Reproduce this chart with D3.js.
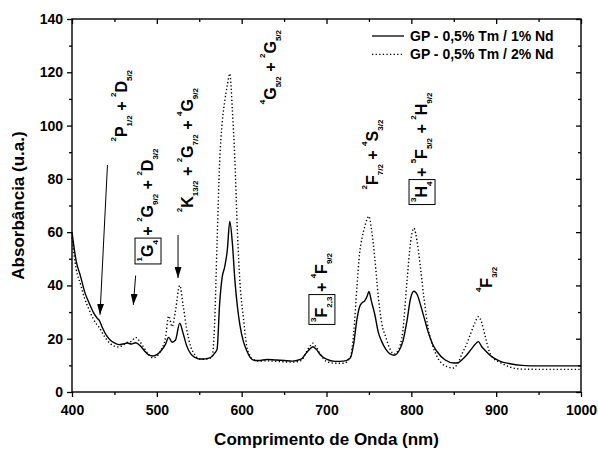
<!DOCTYPE html>
<html>
<head>
<meta charset="utf-8">
<script src="https://cdn.jsdelivr.net/npm/d3@7"></script>
<style>
  body { margin: 0; background: #fff; }
  svg { font-family: "Liberation Sans", Arial, sans-serif; font-weight: bold; }
  text { white-space: pre; }
</style>
</head>
<body>
<div id="chart"></div>
<script>
// wavelength grid (nm) and absorbance
const wavelength = [
  400,405,410,415,420,425,430,432,436,440,445,450,455,460,465,470,475,
  480,485,490,495,500,505,510,514,518,522,527,531,535,540,545,550,555,560,
  565,568,571,574,577,580,583,586,589,592,595,598,602,606,610,615,620,
  630,640,650,660,670,676,680,684,688,693,700,710,720,
  728,732,736,739,742,745,748,750,753,757,761,765,770,775,780,
  785,790,795,799,803,807,811,815,820,825,830,840,850,
  855,860,865,870,875,879,883,887,892,898,905,915,930,950,1000
];
const abs1Nd = [
  60,49,43.5,37.5,33.5,30,27.6,27,24,21.5,19.5,18.4,17.8,18,18.4,18,18.5,
  17.5,15.6,14,13.5,14,15.5,17.8,20.5,18.7,19.5,25.8,22,17.5,14.3,13,12.4,12.4,12.6,
  13.3,14.5,16,33,43,47,53,64,56,42,32,25,19,15.5,13,11.8,11.8,
  12.2,12,11.8,11.6,12.3,14.6,16,17,16,13.9,12.3,11.5,11.6,
  12.8,18,27.5,32,33.5,34.2,36,37.7,34,29,22.5,19,16,14.3,13.8,
  15.2,19,27,35,37.8,36.5,32.5,28,22.3,18,15.3,12,10.9,
  11,12.2,13.8,15.8,17.8,18.9,17,15.6,14,12.6,11.5,10.7,10,9.8,9.8
];
const abs2Nd = [
  58,46,40.5,35,31,27.5,25,24.3,22,20,18.2,17.2,16.9,17.6,18.6,19,20.5,
  18.9,16.5,14.2,12.8,13.4,15.8,20,28.5,24.5,30.5,40,32.5,24,17,13.9,12.4,12.3,12.5,
  13,25,56,86,101,109,115,119.5,106,87,60,41,28,17,13.5,12,11.6,
  11.7,11.5,11.3,11.2,11.8,14.8,17,18.3,16.8,14,11.5,10.8,10.8,
  13,22,40,52,58,62,65,66,61,50,36,26,20.5,16,14.3,
  16,23,42,56,61.5,56,46,35,23.5,17.5,13.5,9.8,9,
  11,14.5,17.8,22,26,28.3,26,21,15.1,12.3,11,9.5,8.6,8.5,8.5
];
const seriesNames = ["GP - 0,5% Tm / 1% Nd", "GP - 0,5% Tm / 2% Nd"];
const xTicks = [400, 500, 600, 700, 800, 900, 1000];
const xMinorTicks = [450, 550, 650, 750, 850, 950];
const yTicks = [0, 20, 40, 60, 80, 100, 120, 140];
const yMinorTicks = [10, 30, 50, 70, 90, 110, 130];

// transition labels: {sup} [sub] |boxed|
const labels = [
  { at: [465, 94],     text: "{2}P[1/2] + {2}D[5/2]" },
  { at: [495.5, 49],   text: "|{1}G[4]| + {2}G[9/2] + {2}D[3/2]" },
  { at: [542.5, 67.5], text: "{2}K[13/2] + {2}G[7/2] + {4}G[9/2]" },
  { at: [640.5, 108],  text: "{4}G[5/2] + {2}G[5/2]" },
  { at: [700.5, 26.3], text: "|{3}F[2,3]| + {4}F[9/2]" },
  { at: [760.5, 76],   text: "{2}F[7/2] + {4}S[3/2]" },
  { at: [818.5, 71.3], text: "|{3}H[4]| + {5}F[5/2] + {2}H[9/2]" },
  { at: [895.5, 37.5], text: "{4}F[3/2]" }
];
const arrows = [
  [441.8, 85.2, 433, 29],
  [475, 43.7, 472.3, 32.7],
  [525, 58.9, 525, 42.8]
];

const
    margin = { top: 19, right: 17, bottom: 58, left: 72 },
    width = 598, height = 450,
    innerWidth = width - margin.left - margin.right,
    innerHeight = height - margin.top - margin.bottom;

const xScale = d3.scaleLinear().domain([400, 1000]).range([0, innerWidth]);
const yScale = d3.scaleLinear().domain([0, 140]).range([innerHeight, 0]);

const svg = d3.select("#chart")
    .append("svg")
    .attr("width", width)
    .attr("height", height);

svg.append("defs")
    .append("marker")
    .attr("id", "arrow")
    .attr("markerUnits", "userSpaceOnUse")
    .attr("markerWidth", 11)
    .attr("markerHeight", 7)
    .attr("refX", 11)
    .attr("refY", 3.5)
    .attr("orient", "auto")
    .append("path")
    .attr("d", "M0,0 L11,3.5 L0,7 Z")
    .attr("fill", "#000");

const mainG = svg.append("g")
    .attr("transform", `translate(${margin.left},${margin.top})`);

// axes
const styleAxis = g => {
    g.select(".domain").remove();
    g.selectAll(".tick line").attr("stroke", "#000").attr("stroke-width", 1.3);
    g.selectAll(".tick text").attr("fill", "#000")
        .style("font-size", "14px").style("font-weight", "bold")
        .style("font-family", "'Liberation Sans', Arial, sans-serif");
};

mainG.append("g").attr("transform", `translate(0,${innerHeight})`)
    .call(d3.axisBottom(xScale).tickValues(xTicks).tickSize(5).tickPadding(8).tickFormat(d3.format("d")))
    .call(styleAxis);
mainG.append("g").attr("transform", `translate(0,${innerHeight})`)
    .call(d3.axisBottom(xScale).tickValues(xMinorTicks).tickSize(3).tickFormat(""))
    .call(styleAxis);
mainG.append("g")
    .call(d3.axisLeft(yScale).tickValues(yTicks).tickSize(5).tickPadding(4).tickFormat(d3.format("d")))
    .call(styleAxis);
mainG.append("g")
    .call(d3.axisLeft(yScale).tickValues(yMinorTicks).tickSize(3).tickFormat(""))
    .call(styleAxis);
// mirrored ticks on top and right, pointing inwards
mainG.append("g")
    .call(d3.axisBottom(xScale).tickValues(xTicks).tickSize(5).tickFormat(""))
    .call(styleAxis);
mainG.append("g")
    .call(d3.axisBottom(xScale).tickValues(xMinorTicks).tickSize(3).tickFormat(""))
    .call(styleAxis);
mainG.append("g").attr("transform", `translate(${innerWidth},0)`)
    .call(d3.axisLeft(yScale).tickValues(yTicks).tickSize(5).tickFormat(""))
    .call(styleAxis);
mainG.append("g").attr("transform", `translate(${innerWidth},0)`)
    .call(d3.axisLeft(yScale).tickValues(yMinorTicks).tickSize(3).tickFormat(""))
    .call(styleAxis);

mainG.append("rect")
    .attr("width", innerWidth)
    .attr("height", innerHeight)
    .attr("fill", "none")
    .attr("stroke", "#000")
    .attr("stroke-width", 1.4);

// spectra
const line = ys => d3.line()
    .x((d, i) => xScale(wavelength[i]))
    .y((d, i) => yScale(ys[i]))
    .curve(d3.curveMonotoneX)(ys);

mainG.append("path")
    .attr("d", line(abs1Nd))
    .attr("fill", "none")
    .attr("stroke", "#000")
    .attr("stroke-width", 1.4);

mainG.append("path")
    .attr("d", line(abs2Nd))
    .attr("fill", "none")
    .attr("stroke", "#000")
    .attr("stroke-width", 1.4)
    .attr("stroke-dasharray", "1.3,2.3");

// arrows
mainG.selectAll(".arrow")
    .data(arrows)
    .enter()
    .append("line")
    .attr("class", "arrow")
    .attr("x1", d => xScale(d[0]))
    .attr("y1", d => yScale(d[1]))
    .attr("x2", d => xScale(d[2]))
    .attr("y2", d => yScale(d[3]))
    .attr("stroke", "#000")
    .attr("stroke-width", 1)
    .attr("marker-end", "url(#arrow)");

// rotated transition labels
labels.forEach(lab => {
    const g = mainG.append("g")
        .attr("transform", `translate(${xScale(lab.at[0])},${yScale(lab.at[1])}) rotate(-90)`);
    const t = g.append("text").attr("fill", "#000");
    const tokens = lab.text.split(/(\{[^}]*\}|\[[^\]]*\]|\|)/).filter(s => s !== "");
    let shift = 0, chars = 0, boxFrom = null, boxTo = null;
    tokens.forEach(tok => {
        if (tok === "|") {
            if (boxFrom === null) boxFrom = chars; else boxTo = chars;
            return;
        }
        let size = 16, target = 0, str = tok;
        if (tok[0] === "{") { size = 8; target = -11; str = tok.slice(1, -1); }
        if (tok[0] === "[") { size = 8; target = 5; str = tok.slice(1, -1); }
        t.append("tspan")
            .attr("dy", target - shift)
            .style("font-size", size + "px")
            .text(str);
        shift = target;
        chars += str.length;
    });
    if (boxFrom !== null) {
        const len = t.node().getSubStringLength(boxFrom, boxTo - boxFrom);
        g.insert("rect", "text")
            .attr("x", -2.5)
            .attr("y", -18)
            .attr("width", len + 4.5)
            .attr("height", 26)
            .attr("fill", "none")
            .attr("stroke", "#000")
            .attr("stroke-width", 1);
    }
});

// legend
const legend = mainG.append("g")
    .attr("transform", `translate(${innerWidth - 209},17)`)
    .selectAll("g")
    .data(seriesNames)
    .enter()
    .append("g")
    .attr("transform", (d, i) => `translate(0,${i * 18.3})`);

legend.append("line")
    .attr("x1", 0).attr("x2", 32)
    .attr("stroke", "#000")
    .attr("stroke-width", 1.3)
    .attr("stroke-dasharray", (d, i) => i ? "1.3,2.3" : null);

legend.append("text")
    .attr("x", 38)
    .attr("y", 5)
    .style("font-size", "14px")
    .text(d => d);

// axis titles
svg.append("text")
    .attr("x", margin.left + innerWidth / 2)
    .attr("y", 445)
    .attr("text-anchor", "middle")
    .style("font-size", "17px")
    .text("Comprimento de Onda (nm)");

svg.append("text")
    .attr("transform", `translate(24,${margin.top + innerHeight / 2}) rotate(-90)`)
    .attr("text-anchor", "middle")
    .style("font-size", "17px")
    .text("Absorbância (u.a.)");
</script>
</body>
</html>
